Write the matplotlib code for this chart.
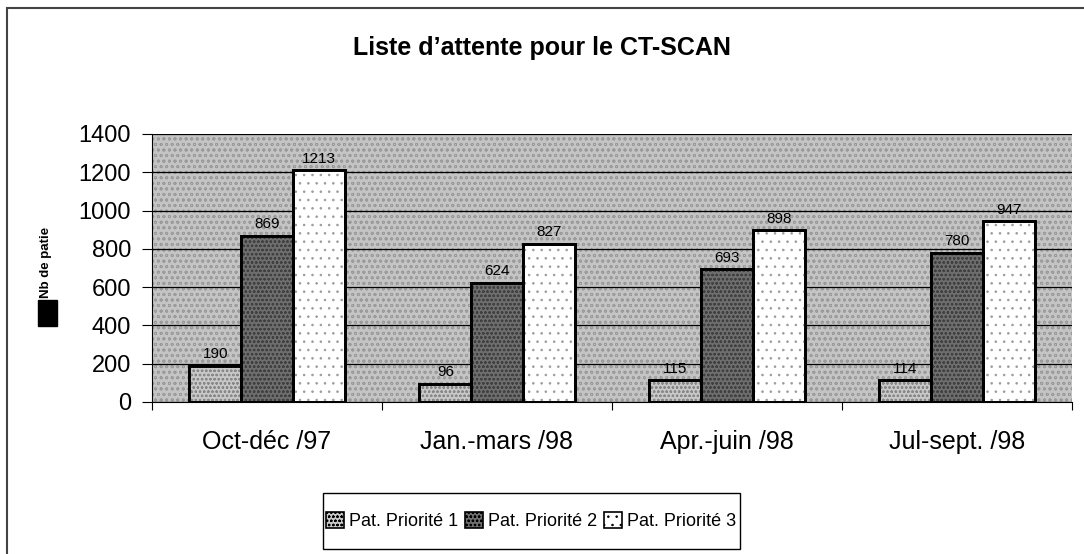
import matplotlib.pyplot as plt
import matplotlib.patches as mpatches
import numpy as np

plt.rcParams['font.family'] = ['Liberation Sans', 'DejaVu Sans']
plt.rcParams['hatch.linewidth'] = 0.6

# Données
periodes = ['Oct-déc /97', 'Jan.-mars /98', 'Apr.-juin /98', 'Jul-sept. /98']
priorite_1 = [190, 96, 115, 114]
priorite_2 = [869, 624, 693, 780]
priorite_3 = [1213, 827, 898, 947]
series = ['Pat. Priorité 1', 'Pat. Priorité 2', 'Pat. Priorité 3']
yticks = [0, 200, 400, 600, 800, 1000, 1200, 1400]

fig = plt.figure(figsize=(10.84, 5.54), dpi=100)

# cadre extérieur (bords droit et bas hors image)
fig.patches.append(mpatches.Rectangle((7 / 1084, -0.1), 1.2, 1.1 - 8 / 554,
                                      transform=fig.transFigure, fill=False,
                                      edgecolor='#444444', linewidth=1.5))

ax = fig.add_axes([152 / 1084, 1 - 402 / 554, 920 / 1084, 268 / 554])
ax.set_facecolor('#c4c4c4')
ax.add_patch(mpatches.Rectangle((0, 0), 1, 1, transform=ax.transAxes, fill=False,
                                hatch='ooo', edgecolor='#9a9a9a', linewidth=0, zorder=0.5))

x = np.arange(len(periodes)) + 0.5
w = 0.225
styles = [
    dict(facecolor='#c8c8c8', hatch='oooo', hatch_col='#888888'),
    dict(facecolor='#6e6e6e', hatch='oooo', hatch_col='#404040'),
    dict(facecolor='#ffffff', hatch='..', hatch_col='#9a9a9a'),
]
valeurs = [priorite_1, priorite_2, priorite_3]
for i, (vals, st) in enumerate(zip(valeurs, styles)):
    pos = x + (i - 1) * w
    ax.bar(pos, vals, width=w, color=st['facecolor'], edgecolor='black',
           linewidth=2, zorder=3, label=series[i])
    ax.bar(pos, vals, width=w, fill=False, hatch=st['hatch'],
           edgecolor=st['hatch_col'], linewidth=0, zorder=3.5)
    ax.bar(pos, vals, width=w, fill=False, edgecolor='black', linewidth=2, zorder=3.6)
    for xi, v in zip(pos, vals):
        ax.text(xi, v + 22, str(v), ha='center', va='bottom', fontsize=11, zorder=4)

ax.set_xlim(0, len(periodes))
ax.set_ylim(0, 1400)
ax.set_yticks(yticks)
ax.set_yticklabels([str(t) for t in yticks], fontsize=17)
ax.yaxis.grid(True, color='black', linewidth=0.9)
for gl in ax.get_ygridlines():
    gl.set_zorder(1)
ax.set_xticks(np.arange(len(periodes) + 1))
ax.set_xticklabels([])
ax.set_xticks(x, minor=True)
ax.set_xticklabels(periodes, minor=True, fontsize=18)
ax.tick_params(axis='x', which='minor', length=0, pad=20)
ax.tick_params(axis='x', which='major', length=6, direction='out')
ax.tick_params(axis='y', length=7, direction='out', pad=8)
for s in ['top', 'right']:
    ax.spines[s].set_visible(False)

# titre
fig.text(0.5, 1 - 48 / 554, "Liste d’attente pour le CT-SCAN", ha='center', va='center',
         fontsize=18, fontweight='bold')

# étiquette de l'axe y (petite) avec carré noir
fig.text(46 / 1084, 1 - 298 / 554, 'Nb de patie', rotation=90, ha='center', va='bottom',
         fontsize=9.5, fontweight='bold')
fig.patches.append(mpatches.Rectangle((38 / 1084, 1 - 326 / 554), 19 / 1084, 26 / 554,
                                      transform=fig.transFigure, color='black'))

# légende (cadre dessiné à part)
handles = []
for i, st in enumerate(styles):
    handles.append(mpatches.Patch(facecolor=st['facecolor'], edgecolor='black',
                                  hatch=st['hatch'], linewidth=1.2, label=series[i]))
leg = fig.legend(handles=handles, loc='center', bbox_to_anchor=(531 / 1084, 1 - 521 / 554),
                 ncol=3, fontsize=13, frameon=False,
                 handlelength=1.0, handleheight=1.0, handletextpad=0.3, columnspacing=0.35,
                 borderpad=0, borderaxespad=0)
fig.patches.append(mpatches.Rectangle((323 / 1084, 1 - 549 / 554), 417 / 1084, 56 / 554,
                                      transform=fig.transFigure, fill=False,
                                      edgecolor='black', linewidth=1))

fig.savefig('out.png', dpi=100)
